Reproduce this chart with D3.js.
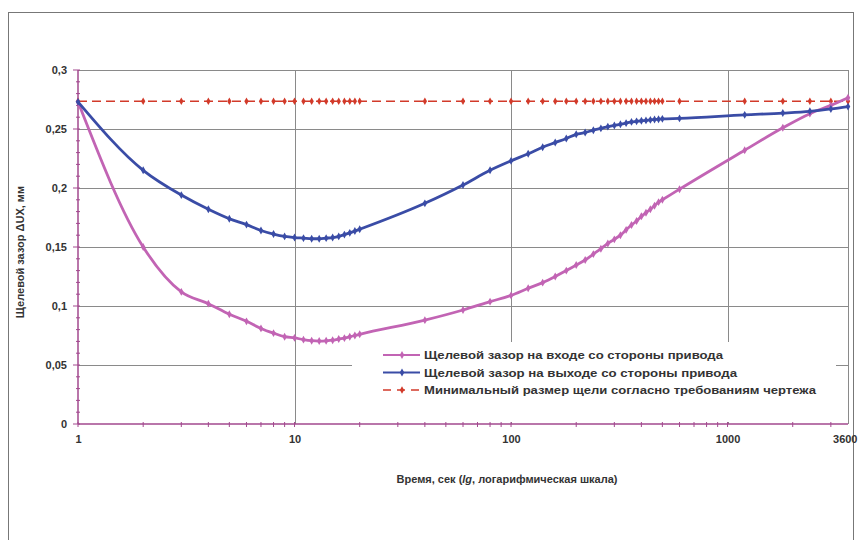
<!DOCTYPE html>
<html>
<head>
<meta charset="utf-8">
<script src="https://cdn.jsdelivr.net/npm/d3@7"></script>
<style>
  body { margin: 0; background: #fff; }
  svg { display: block; font-family: "Liberation Sans", Arial, sans-serif; }
</style>
</head>
<body>
<div id="chart"></div>
<script>
// time points, sec
const times = [1, 2, 3, 4, 5, 6, 7, 8, 9, 10, 11, 12, 13, 14, 15, 16, 17, 18, 19, 20,
    40, 60, 80,
    100, 120, 140, 160, 180, 200, 220, 240, 260, 280, 300, 320, 340, 360, 380, 400, 420, 440, 460, 480, 500,
    600, 1200, 1800, 2400, 3000, 3600];

// gap at the inlet, drive side
const gapIn = [0.273, 0.150, 0.112, 0.102, 0.093, 0.087, 0.081, 0.077, 0.074, 0.073, 0.0715, 0.0706, 0.0703, 0.0705, 0.071, 0.072, 0.0728, 0.074, 0.075, 0.076,
    0.088, 0.0966, 0.1037,
    0.109, 0.115, 0.1198, 0.125, 0.130, 0.1347, 0.139, 0.144, 0.1485, 0.153, 0.1565, 0.160, 0.1645, 0.1686, 0.172, 0.176, 0.179, 0.182, 0.185, 0.188, 0.190,
    0.199, 0.232, 0.251, 0.263, 0.270, 0.2765];

// gap at the outlet, drive side
const gapOut = [0.273, 0.215, 0.194, 0.182, 0.174, 0.169, 0.164, 0.161, 0.159, 0.158, 0.1575, 0.157, 0.157, 0.1575, 0.158, 0.159, 0.1605, 0.162, 0.1635, 0.165,
    0.187, 0.2025, 0.215,
    0.223, 0.229, 0.2345, 0.2385, 0.242, 0.2455, 0.247, 0.249, 0.2505, 0.252, 0.253, 0.254, 0.255, 0.256, 0.2565, 0.257, 0.2573, 0.2577, 0.258, 0.2583, 0.2586,
    0.259, 0.262, 0.2635, 0.265, 0.267, 0.269];

// minimal gap from the drawing
const gapMin = [0.2735, 0.2735, 0.2735, 0.2735, 0.2735, 0.2735, 0.2735, 0.2735, 0.2735, 0.2735, 0.2735, 0.2735, 0.2735, 0.2735, 0.2735, 0.2735, 0.2735, 0.2735, 0.2735, 0.2735,
    0.2735, 0.2735, 0.2735,
    0.2735, 0.2735, 0.2735, 0.2735, 0.2735, 0.2735, 0.2735, 0.2735, 0.2735, 0.2735, 0.2735, 0.2735, 0.2735, 0.2735, 0.2735, 0.2735, 0.2735, 0.2735, 0.2735, 0.2735, 0.2735,
    0.2735, 0.2735, 0.2735, 0.2735, 0.2735, 0.2735];

const seriesNames = [
    "Щелевой зазор на входе со стороны привода",
    "Щелевой зазор на выходе со стороны привода",
    "Минимальный размер щели согласно требованиям чертежа"
];

const xTicks = [1, 10, 100, 1000, 3600];
const xGrid = [10, 100, 1000, 3600];
const yTicks = [0, 0.05, 0.1, 0.15, 0.2, 0.25, 0.3];
const yTickLabels = ["0", "0,05", "0,1", "0,15", "0,2", "0,25", "0,3"];

const W = 858, H = 540;
const margin = { top: 70, right: 10, bottom: 116, left: 78 };
const x0 = margin.left, x1 = W - margin.right, y0 = H - margin.bottom, y1 = margin.top;

const svg = d3.select("#chart").append("svg")
    .attr("width", W)
    .attr("height", H);

svg.append("rect").attr("width", W).attr("height", H).attr("fill", "#fff");
// outer frame
svg.append("rect")
    .attr("x", 8.5).attr("y", 12.5)
    .attr("width", 845).attr("height", 560)
    .attr("fill", "none").attr("stroke", "#777").attr("stroke-width", 1);

const x = d3.scaleLog().domain([1, 3600]).range([x0, x1]);
const y = d3.scaleLinear().domain([0, 0.3]).range([y0, y1]);

// grid
svg.append("g")
    .selectAll("line.h")
    .data(yTicks.slice(1))
    .enter().append("line")
    .attr("x1", x0).attr("x2", x1)
    .attr("y1", d => Math.round(y(d)) + 0.5).attr("y2", d => Math.round(y(d)) + 0.5)
    .attr("stroke", "#8a8a8a").attr("stroke-width", 1);

svg.append("g")
    .selectAll("line.v")
    .data(xGrid)
    .enter().append("line")
    .attr("x1", d => Math.round(x(d)) + 0.5).attr("x2", d => Math.round(x(d)) + 0.5)
    .attr("y1", y1).attr("y2", y0)
    .attr("stroke", "#8a8a8a").attr("stroke-width", 1);

// legend background hides part of the grid
const lg = svg.append("g").attr("transform", "translate(352,342)");
lg.append("rect").attr("width", 484).attr("height", 80).attr("fill", "#fff");

// axes
const axisColor = "#a2488e";
svg.append("line")
    .attr("x1", x0).attr("x2", x0).attr("y1", y1).attr("y2", y0)
    .attr("stroke", axisColor).attr("stroke-width", 1.5);
svg.append("line")
    .attr("x1", x0).attr("x2", x1).attr("y1", y0).attr("y2", y0)
    .attr("stroke", axisColor).attr("stroke-width", 1.5);

// minor ticks on y (every 0.01)
svg.append("g")
    .selectAll("line")
    .data(d3.range(0, 31))
    .enter().append("line")
    .attr("x1", d => d % 5 == 0 ? x0 - 5 : x0 - 2)
    .attr("x2", x0 + 2)
    .attr("y1", d => y(d / 100)).attr("y2", d => y(d / 100))
    .attr("stroke", axisColor).attr("stroke-width", 1);

// minor ticks on x (log)
const xMinor = x.ticks().filter(d => d <= 3600);
svg.append("g")
    .selectAll("line")
    .data(xMinor)
    .enter().append("line")
    .attr("x1", d => x(d)).attr("x2", d => x(d))
    .attr("y1", y0 - 2).attr("y2", y0 + 3)
    .attr("stroke", axisColor).attr("stroke-width", 1);

// tick labels
svg.append("g")
    .attr("transform", `translate(${x0},0)`)
    .call(d3.axisLeft(y).tickValues(yTicks).tickSize(0).tickPadding(11)
        .tickFormat((d, i) => yTickLabels[i]))
    .call(g => g.select(".domain").remove())
    .selectAll("text")
    .attr("font-size", 11).attr("font-weight", "bold").attr("fill", "#333")
    .attr("font-family", "Liberation Sans, Arial, sans-serif");

svg.append("g")
    .attr("transform", `translate(0,${y0})`)
    .call(d3.axisBottom(x).tickValues(xTicks).tickSize(0).tickPadding(11)
        .tickFormat(d3.format("d")))
    .call(g => g.select(".domain").remove())
    .selectAll("text")
    .attr("font-size", 11).attr("font-weight", "bold").attr("fill", "#333")
    .attr("font-family", "Liberation Sans, Arial, sans-serif")
    // last label sits at the right edge, keep it inside
    .attr("text-anchor", d => d == 3600 ? "end" : "middle")
    .attr("dx", d => d == 3600 ? 9 : 0);

// axis titles
svg.append("text")
    .attr("transform", "translate(24,252) rotate(-90)")
    .attr("text-anchor", "middle")
    .attr("font-size", 11).attr("font-weight", "bold").attr("fill", "#333")
    .text("Щелевой зазор ΔUX, мм");

const xt = svg.append("text")
    .attr("x", 507).attr("y", 483)
    .attr("text-anchor", "middle")
    .attr("font-size", 11).attr("font-weight", "bold").attr("fill", "#333");
xt.append("tspan").text("Время, сек (");
xt.append("tspan").attr("font-style", "italic").text("lg");
xt.append("tspan").text(", логарифмическая шкала)");

// series
const series = [
    { values: gapIn, color: "#c264b4", width: 2.8, dash: null, marker: 18 },
    { values: gapOut, color: "#3a4ca6", width: 2.8, dash: null, marker: 18 },
    { values: gapMin, color: "#d23a2a", width: 1.5, dash: "9,5", marker: 16 }
];

const line = d3.line()
    .x(d => x(d[0]))
    .y(d => y(d[1]))
    .curve(d3.curveMonotoneX);

const diamond = d3.symbol().type(d3.symbolDiamond);

[2, 0, 1].forEach(i => {
    const s = series[i];
    const pts = times.map((t, j) => [t, s.values[j]]);
    svg.append("path")
        .datum(pts)
        .attr("d", line)
        .attr("fill", "none")
        .attr("stroke", s.color)
        .attr("stroke-width", s.width)
        .attr("stroke-dasharray", s.dash);
    svg.append("g")
        .selectAll("path")
        .data(pts)
        .enter().append("path")
        .attr("transform", d => `translate(${x(d[0])},${y(d[1])})`)
        .attr("d", diamond.size(s.marker))
        .attr("fill", s.color);
});

// legend entries
const legendLen = [299, 313, 392];
series.forEach((s, i) => {
    const row = lg.append("g").attr("transform", `translate(0,${13 + i * 17.5})`);
    row.append("line")
        .attr("x1", 31).attr("x2", 68)
        .attr("stroke", s.color).attr("stroke-width", s.dash ? 1.5 : 2)
        .attr("stroke-dasharray", s.dash ? "8,6" : null);
    row.append("path")
        .attr("transform", "translate(50,0)")
        .attr("d", diamond.size(s.marker))
        .attr("fill", s.color);
    row.append("text")
        .attr("x", 72).attr("y", 4)
        .attr("font-size", 11).attr("font-weight", "bold").attr("fill", "#333")
        .attr("textLength", legendLen[i]).attr("lengthAdjust", "spacingAndGlyphs")
        .text(seriesNames[i]);
});
</script>
</body>
</html>
